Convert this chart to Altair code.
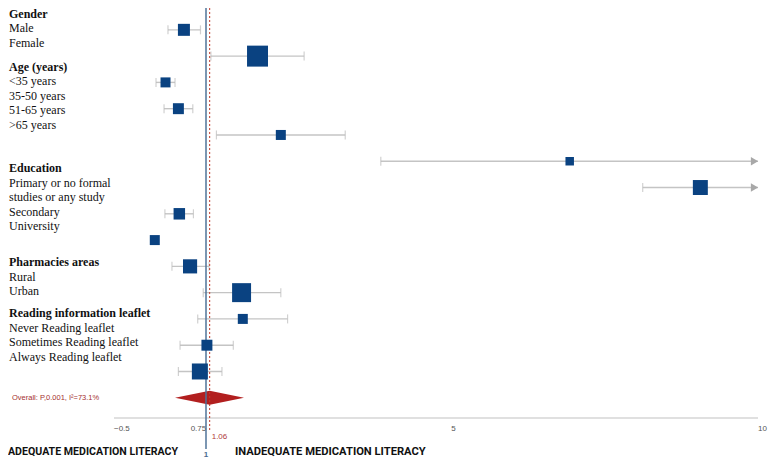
import altair as alt
import pandas as pd

# ---------------- data ----------------
row_labels = ["Male", "Female", "<35 years", "35-50 years", "51-65 years", ">65 years",
              "Primary or no formal studies", "Secondary", "University",
              "Rural", "Urban",
              "Never Reading leaflet", "Sometimes Reading leaflet", "Always Reading leaflet"]
estimate = [0.64, 1.84, 0.34, 0.55, 2.22, 6.93, 9.06, 0.565, 0.165, 0.74, 1.58, 1.60, 1.015, 0.90]
ci_low = [0.38, 1.08, 0.185, 0.316, 1.17, 3.85, 8.12, 0.33, 0.12, 0.445, 0.955, 0.865, 0.577, 0.55]
ci_high = [0.91, 2.60, 0.495, 0.785, 3.27, 12.0, 11.5, 0.795, 0.21, 1.05, 2.22, 2.33, 1.445, 1.26]
weight = [3.6, 11.0, 2.5, 3.0, 2.5, 1.8, 5.6, 3.3, 2.5, 5.0, 9.0, 2.5, 3.0, 6.4]

overall_estimate = 1.06
overall_low = 0.495
overall_high = 1.62
overall_label = "Overall: P,0.001, I²=73.1%"

x_ticks = [-0.5, 0.75, 5, 10]
x_domain = [-0.5, 10]
null_value = 1

group_headers = ["Gender", "Age (years)", "Education", "Pharmacies areas",
                 "Reading information leaflet"]
group_items = [
    ["Male", "Female"],
    ["<35 years", "35-50 years", "51-65 years", ">65 years"],
    ["Primary or no formal", "studies or any study", "Secondary", "University"],
    ["Rural", "Urban"],
    ["Never Reading leaflet", "Sometimes Reading leaflet", "Always Reading leaflet"],
]
group_gap_lines = [0.6, 0.65, 2.0, 1.5, 0.5]

left_caption = "ADEQUATE MEDICATION LITERACY"
right_caption = "INADEQUATE MEDICATION LITERACY"

# ---------------- tables ----------------
n = len(row_labels)
studies = pd.DataFrame({"row": list(range(n)), "label": row_labels, "est": estimate,
                        "lo": ci_low, "hi": ci_high, "weight": weight})
studies["hi_draw"] = studies["hi"].clip(upper=x_domain[1])
studies["truncated"] = studies["hi"] > x_domain[1]
overall_row = n
diamond = pd.DataFrame({"x": [overall_low, overall_estimate, overall_high],
                        "bulge": [0, 1, 0], "row": [overall_row] * 3})

lines = []
pos = 0.0
for gap, header, items in zip(group_gap_lines, group_headers, group_items):
    pos += gap
    lines.append({"text": header, "line": pos, "bold": True})
    for it in items:
        pos += 1
        lines.append({"text": it, "line": pos, "bold": False})
    pos += 1
labels = pd.DataFrame(lines)

ticks = pd.DataFrame({"v": x_ticks})
axis_span = pd.DataFrame({"a": [x_domain[0]], "b": [x_domain[1]]})

# ---------------- scales ----------------
W, H = 762, 450
xs = alt.Scale(domain=x_domain, range=[106, 750], nice=False, zero=False)
ys = alt.Scale(domain=[-0.8311, 16.2922], range=[0, H], nice=False, zero=False)
ls = alt.Scale(domain=[0.2069, 31.2414], range=[0, H], nice=False, zero=False)

Y = alt.Y("row:Q", scale=ys, axis=None)
base = alt.Chart(studies)

def X(field):
    return alt.X(field, scale=xs, axis=None)

ci = base.mark_rule(color="#c4c4c4", strokeWidth=1.4).encode(
    x=X("lo:Q"), x2="hi_draw:Q", y=Y)
cap_lo = base.mark_tick(orient="vertical", size=9, thickness=1.2, color="#bdbdbd").encode(
    x=X("lo:Q"), y=Y)
cap_hi = base.transform_filter("!datum.truncated").mark_tick(
    orient="vertical", size=9, thickness=1.2, color="#bdbdbd").encode(x=X("hi:Q"), y=Y)
arrows = base.transform_filter("datum.truncated").mark_point(
    shape="triangle-right", filled=True, size=70, color="#a8a8a8", opacity=1,
    xOffset=-3.5).encode(x=X("hi_draw:Q"), y=Y)

diamond_half = 0.27
dia = alt.Chart(diamond).transform_calculate(
    y_top=f"datum.row - datum.bulge * {diamond_half}",
    y_bot=f"datum.row + datum.bulge * {diamond_half}",
).mark_area(orient="vertical", color="#b21f1f", opacity=1).encode(
    x=X("x:Q"),
    y=alt.Y("y_top:Q", scale=ys, axis=None, stack=None),
    y2="y_bot:Q",
)

null_df = alt.Chart(pd.DataFrame({"v": [null_value], "t": ["1"]}))
pooled_df = alt.Chart(pd.DataFrame({"v": [overall_estimate], "t": [f"{overall_estimate:.2f}"]}))

null_line = null_df.mark_rule(color="#4f7399", strokeWidth=1.5).encode(
    x=X("v:Q"), y=alt.value(0), y2=alt.value(441))
pooled_line = pooled_df.mark_rule(color="#c0392b", strokeWidth=1, strokeDash=[2, 2]).encode(
    x=X("v:Q"), y=alt.value(0), y2=alt.value(424))
null_text = null_df.mark_text(align="center", baseline="middle", fontSize=8,
                              fontWeight="bold", color="#4a6b8f",
                              font="Liberation Sans").encode(
    x=X("v:Q"), y=alt.value(446.5), text="t:N")
pooled_text = pooled_df.mark_text(align="left", baseline="middle", fontSize=8, dx=2,
                                  color="#b03a3a", font="Liberation Sans").encode(
    x=X("v:Q"), y=alt.value(429), text="t:N")

squares = base.mark_square(filled=True, color="#0a4281", opacity=1).encode(
    x=X("est:Q"), y=Y,
    size=alt.Size("weight:Q", scale=alt.Scale(domain=[0, 11], range=[0, 440]), legend=None))

overall_text = alt.Chart(pd.DataFrame({"row": [overall_row], "t": [overall_label]})).mark_text(
    align="left", baseline="middle", fontSize=7.5, color="#a5302f",
    font="Liberation Sans").encode(x=alt.value(4), y=Y, text="t:N")

# x axis (domain line + labels) drawn through the x scale
axis_line = alt.Chart(axis_span).mark_bar(color="#c2c2c2", height=1.2).encode(
    x=X("a:Q"), x2="b:Q", y=alt.value(410))
axis_labels = alt.Chart(ticks).transform_calculate(
    lab="format(datum.v, '~g')").mark_text(
    align="left", baseline="middle", fontSize=8, color="#555",
    font="Liberation Sans").encode(x=X("v:Q"), y=alt.value(421), text="lab:N")

cap_style = dict(align="left", baseline="middle", fontSize=10.6, fontWeight="bold",
                 font="Roboto", color="#111")
cap_left = alt.Chart(pd.DataFrame({"t": [left_caption]})).mark_text(**cap_style).encode(
    x=alt.value(0), y=alt.value(443.5), text="t:N")
cap_right = alt.Chart(pd.DataFrame({"t": [right_caption]})).mark_text(
    **{**cap_style, "fontSize": 11.2}).encode(
    x=alt.value(227), y=alt.value(443.5), text="t:N")

lab = alt.Chart(labels)
lab_enc = dict(x=alt.value(1), y=alt.Y("line:Q", scale=ls, axis=None), text="text:N")
hdr = lab.transform_filter("datum.bold").mark_text(
    align="left", baseline="middle", font="Liberation Serif", fontSize=12,
    fontWeight="bold", color="#111").encode(**lab_enc)
itm = lab.transform_filter("!datum.bold").mark_text(
    align="left", baseline="middle", font="Liberation Serif", fontSize=12,
    color="#111").encode(**lab_enc)
text_col = alt.layer(hdr, itm)

plot = alt.layer(axis_line, axis_labels, ci, cap_lo, cap_hi, arrows, dia, null_line,
                 pooled_line, squares, overall_text, pooled_text, null_text,
                 cap_left, cap_right)

chart = alt.layer(plot, text_col).resolve_scale(y="independent").properties(
    width=W, height=H, autosize=alt.AutoSizeParams(type="none"), padding=0,
    background="white"
).configure_view(stroke=None)

chart.save("out.html", embed_options={"renderer": "svg", "actions": False})
